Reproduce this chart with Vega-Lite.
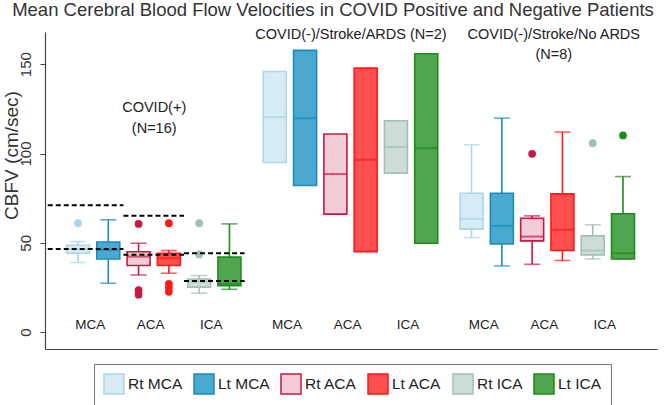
{
  "$schema": "https://vega.github.io/schema/vega-lite/v6.json",
  "width": 612,
  "height": 317,
  "autosize": "none",
  "padding": {"left": 45, "top": 32, "right": 9, "bottom": 56},
  "background": "white",
  "title": {"text": "Mean Cerebral Blood Flow Velocities in COVID Positive and Negative Patients", "anchor": "middle", "frame": "group", "dx": -18, "offset": 8, "fontSize": 18.5, "fontWeight": "normal", "color": "#333333", "font": "Liberation Sans"},
  "config": {
    "view": {"stroke": null},
    "font": "Liberation Sans",
    "axis": {"domainColor": "#444444", "tickColor": "#444444", "labelColor": "#333333", "titleColor": "#333333", "labelFont": "Liberation Sans", "titleFont": "Liberation Sans", "titleFontWeight": "normal"},
    "legend": {"direction": "horizontal", "columns": 6, "symbolType": "square", "symbolSize": 400, "symbolStrokeWidth": 1.5, "labelFontSize": 15.5, "labelColor": "#222222", "labelOffset": 3, "columnPadding": 8, "padding": 9, "strokeColor": "#777777", "fillColor": "white", "labelFont": "Liberation Sans"}
  },
  "datasets": {
    "boxes": [
      {"group": "COVID(+)", "slot": "Rt MCA", "series": "Rt MCA", "lower": 39, "q1": 44.2, "median": 46.5, "q3": 48.7, "upper": 50.7},
      {"group": "COVID(+)", "slot": "Lt MCA", "series": "Lt MCA", "lower": 27.4, "q1": 41, "median": 46, "q3": 50.5, "upper": 62.9},
      {"group": "COVID(+)", "slot": "Rt ACA", "series": "Rt ACA", "lower": 32, "q1": 37.3, "median": 42.3, "q3": 45, "upper": 49.8},
      {"group": "COVID(+)", "slot": "Lt ACA", "series": "Lt ACA", "lower": 33, "q1": 37.3, "median": 41.4, "q3": 44.2, "upper": 45.7},
      {"group": "COVID(+)", "slot": "Rt ICA", "series": "Rt ICA", "lower": 21.8, "q1": 25.2, "median": 28.3, "q3": 29.8, "upper": 31.7},
      {"group": "COVID(+)", "slot": "Lt ICA", "series": "Lt ICA", "lower": 24, "q1": 26, "median": 27, "q3": 42, "upper": 60.6},
      {"group": "COVID(-)/Stroke/ARDS", "slot": "Rt MCA", "series": "Rt MCA", "q1": 95, "median": 120.4, "q3": 145.9},
      {"group": "COVID(-)/Stroke/ARDS", "slot": "Lt MCA", "series": "Lt MCA", "q1": 82.1, "median": 119.8, "q3": 157.7},
      {"group": "COVID(-)/Stroke/ARDS", "slot": "Rt ACA", "series": "Rt ACA", "q1": 66.1, "median": 88.5, "q3": 110.9},
      {"group": "COVID(-)/Stroke/ARDS", "slot": "Lt ACA", "series": "Lt ACA", "q1": 45.1, "median": 96.5, "q3": 147.8},
      {"group": "COVID(-)/Stroke/ARDS", "slot": "Rt ICA", "series": "Rt ICA", "q1": 89, "median": 103.6, "q3": 118.3},
      {"group": "COVID(-)/Stroke/ARDS", "slot": "Lt ICA", "series": "Lt ICA", "q1": 49.8, "median": 103, "q3": 155.8},
      {"group": "COVID(-)/Stroke/No ARDS", "slot": "Rt MCA", "series": "Rt MCA", "lower": 53, "q1": 57.7, "median": 63.3, "q3": 77.8, "upper": 104.9},
      {"group": "COVID(-)/Stroke/No ARDS", "slot": "Lt MCA", "series": "Lt MCA", "lower": 37.1, "q1": 49.4, "median": 59.5, "q3": 77.8, "upper": 119.8},
      {"group": "COVID(-)/Stroke/No ARDS", "slot": "Rt ACA", "series": "Rt ACA", "lower": 38, "q1": 51.1, "median": 53.5, "q3": 63.8, "upper": 65.1},
      {"group": "COVID(-)/Stroke/No ARDS", "slot": "Lt ACA", "series": "Lt ACA", "lower": 40.1, "q1": 45.7, "median": 57.3, "q3": 77.4, "upper": 112},
      {"group": "COVID(-)/Stroke/No ARDS", "slot": "Rt ICA", "series": "Rt ICA", "lower": 41, "q1": 43.3, "median": 45.7, "q3": 53.9, "upper": 60.1},
      {"group": "COVID(-)/Stroke/No ARDS", "slot": "Lt ICA", "series": "Lt ICA", "lower": 41, "q1": 41, "median": 44.2, "q3": 66.3, "upper": 87.1}
    ],
    "outliers": [
      {"group": "COVID(+)", "slot": "Rt MCA", "value": 61},
      {"group": "COVID(+)", "slot": "Rt ACA", "value": 60.6},
      {"group": "COVID(+)", "slot": "Rt ACA", "value": 23.5},
      {"group": "COVID(+)", "slot": "Rt ACA", "value": 21},
      {"group": "COVID(+)", "slot": "Lt ACA", "value": 61},
      {"group": "COVID(+)", "slot": "Lt ACA", "value": 27},
      {"group": "COVID(+)", "slot": "Lt ACA", "value": 25},
      {"group": "COVID(+)", "slot": "Lt ACA", "value": 22.6},
      {"group": "COVID(+)", "slot": "Rt ICA", "value": 61},
      {"group": "COVID(+)", "slot": "Rt ICA", "value": 43.5},
      {"group": "COVID(-)/Stroke/No ARDS", "slot": "Rt ACA", "value": 99.8},
      {"group": "COVID(-)/Stroke/No ARDS", "slot": "Rt ICA", "value": 105.8},
      {"group": "COVID(-)/Stroke/No ARDS", "slot": "Lt ICA", "value": 110.1}
    ],
    "refs": [
      {"group": "COVID(+)", "line": "MCA upper", "slot": "LL", "value": 71},
      {"group": "COVID(+)", "line": "MCA upper", "slot": "b", "value": 71},
      {"group": "COVID(+)", "line": "MCA lower", "slot": "LL", "value": 46.6},
      {"group": "COVID(+)", "line": "MCA lower", "slot": "b", "value": 46.6},
      {"group": "COVID(+)", "line": "ACA upper", "slot": "b", "value": 65.1},
      {"group": "COVID(+)", "line": "ACA upper", "slot": "d", "value": 65.1},
      {"group": "COVID(+)", "line": "ACA lower", "slot": "b", "value": 43.3},
      {"group": "COVID(+)", "line": "ACA lower", "slot": "d", "value": 43.3},
      {"group": "COVID(+)", "line": "ICA upper", "slot": "d", "value": 44.2},
      {"group": "COVID(+)", "line": "ICA upper", "slot": "R", "value": 44.2},
      {"group": "COVID(+)", "line": "ICA lower", "slot": "d", "value": 28.7},
      {"group": "COVID(+)", "line": "ICA lower", "slot": "R", "value": 28.7}
    ],
    "labels": [
      {"group": "COVID(+)", "slot": "a", "label": "MCA"},
      {"group": "COVID(+)", "slot": "c", "label": "ACA"},
      {"group": "COVID(+)", "slot": "e", "label": "ICA"},
      {"group": "COVID(-)/Stroke/ARDS", "slot": "a", "label": "MCA"},
      {"group": "COVID(-)/Stroke/ARDS", "slot": "c", "label": "ACA"},
      {"group": "COVID(-)/Stroke/ARDS", "slot": "e", "label": "ICA"},
      {"group": "COVID(-)/Stroke/No ARDS", "slot": "a", "label": "MCA"},
      {"group": "COVID(-)/Stroke/No ARDS", "slot": "c", "label": "ACA"},
      {"group": "COVID(-)/Stroke/No ARDS", "slot": "e", "label": "ICA"}
    ],
    "notes": [
      {"group": "COVID(+)", "text": "COVID(+)", "value": 125.4},
      {"group": "COVID(+)", "text": "(N=16)", "value": 113.7},
      {"group": "COVID(-)/Stroke/ARDS", "text": "COVID(-)/Stroke/ARDS (N=2)", "value": 166.3}
    ],
    "notes3": [
      {"group": "COVID(-)/Stroke/No ARDS", "text": "COVID(-)/Stroke/No ARDS", "value": 166.3},
      {"group": "COVID(-)/Stroke/No ARDS", "text": "(N=8)", "value": 155.3}
    ]
  },
  "encoding": {
    "x": {"field": "group", "type": "nominal", "sort": null,
      "scale": {"type": "band", "domain": ["COVID(+)", "COVID(-)/Stroke/ARDS", "COVID(-)/Stroke/No ARDS"], "paddingInner": 0, "paddingOuter": 0.055},
      "axis": {"title": null, "labels": false, "ticks": false, "domain": true, "domainWidth": 1.2}}
  },
  "layer": [
    {
      "data": {"name": "boxes"},
      "transform": [{"filter": "isValid(datum.lower) && isValid(datum.upper)"}],
      "mark": {"type": "bar", "width": 1.6},
      "encoding": {
        "xOffset": {"field": "slot", "type": "nominal", "scale": {"type": "point", "domain": ["LL", "L", "Rt MCA", "a", "Lt MCA", "b", "Rt ACA", "c", "Lt ACA", "d", "Rt ICA", "e", "Lt ICA", "R", "RR"], "range": [-8.1, 203.9], "padding": 0}},
        "y": {"field": "lower", "type": "quantitative",
          "scale": {"domain": [-9.4, 168], "nice": false, "zero": false},
          "axis": {"title": "CBFV (cm/sec)", "values": [0, 50, 100, 150], "grid": false, "labelAngle": 270, "labelAlign": "center", "labelBaseline": "bottom", "labelFontSize": 15, "labelPadding": 7, "tickSize": 5, "titleFontSize": 19, "titleAngle": 270, "titleAlign": "center", "titleBaseline": "middle", "titleX": -34, "titleY": 123, "domainWidth": 1.2}},
        "y2": {"field": "upper"},
        "fill": {"field": "slot", "type": "nominal", "legend": null,
          "scale": {"domain": ["Lt MCA", "Rt MCA", "Lt ACA", "Rt ACA", "Lt ICA", "Rt ICA"], "range": ["#1a8bc2", "#a9d6ea", "#ff1a1a", "#c41a44", "#1d8c1d", "#a2bfb6"]}}
      }
    },
    {
      "data": {"name": "boxes"},
      "transform": [{"filter": "isValid(datum.lower)"}],
      "mark": {"type": "tick", "size": 16, "thickness": 1.6},
      "encoding": {
        "xOffset": {"field": "slot", "type": "nominal"},
        "y": {"field": "lower", "type": "quantitative"},
        "fill": {"field": "slot", "type": "nominal", "legend": null}
      }
    },
    {
      "data": {"name": "boxes"},
      "transform": [{"filter": "isValid(datum.upper)"}],
      "mark": {"type": "tick", "size": 16, "thickness": 1.6},
      "encoding": {
        "xOffset": {"field": "slot", "type": "nominal"},
        "y": {"field": "upper", "type": "quantitative"},
        "fill": {"field": "slot", "type": "nominal", "legend": null}
      }
    },
    {
      "data": {"name": "boxes"},
      "mark": {"type": "bar", "width": 23, "strokeWidth": 1.6},
      "encoding": {
        "xOffset": {"field": "slot", "type": "nominal"},
        "y": {"field": "q1", "type": "quantitative"},
        "y2": {"field": "q3"},
        "color": {"field": "series", "type": "nominal",
          "legend": {"title": null, "orient": "none", "legendX": 49, "legendY": 332},
          "scale": {"domain": ["Rt MCA", "Lt MCA", "Rt ACA", "Lt ACA", "Rt ICA", "Lt ICA"], "range": ["#d6ebf3", "#4aa9cf", "#f2cdd7", "#ff4f4f", "#cddcd8", "#4fa64f"]}},
        "stroke": {"field": "series", "type": "nominal",
          "legend": {"title": null, "orient": "none", "legendX": 49, "legendY": 332},
          "scale": {"domain": ["Rt MCA", "Lt MCA", "Rt ACA", "Lt ACA", "Rt ICA", "Lt ICA"], "range": ["#a9d6ea", "#1a8bc2", "#c41a44", "#ff1a1a", "#a2bfb6", "#1d8c1d"]}}
      }
    },
    {
      "data": {"name": "boxes"},
      "mark": {"type": "tick", "size": 23, "thickness": 2},
      "encoding": {
        "xOffset": {"field": "slot", "type": "nominal"},
        "y": {"field": "median", "type": "quantitative"},
        "fill": {"field": "slot", "type": "nominal", "legend": null}
      }
    },
    {
      "data": {"name": "outliers"},
      "mark": {"type": "point", "filled": true, "size": 60, "opacity": 1},
      "encoding": {
        "xOffset": {"field": "slot", "type": "nominal"},
        "y": {"field": "value", "type": "quantitative"},
        "fill": {"field": "slot", "type": "nominal", "legend": null}
      }
    },
    {
      "data": {"name": "refs"},
      "mark": {"type": "line", "color": "black", "strokeWidth": 2, "strokeDash": [5, 3]},
      "encoding": {
        "xOffset": {"field": "slot", "type": "nominal"},
        "y": {"field": "value", "type": "quantitative"},
        "detail": {"field": "line", "type": "nominal"}
      }
    },
    {
      "data": {"name": "labels"},
      "mark": {"type": "text", "fontSize": 13.5, "color": "#222222", "dx": -3, "baseline": "middle"},
      "encoding": {
        "xOffset": {"field": "slot", "type": "nominal"},
        "y": {"datum": 4, "type": "quantitative"},
        "text": {"field": "label"}
      }
    },
    {
      "data": {"name": "notes"},
      "mark": {"type": "text", "fontSize": 14.5, "color": "#222222", "baseline": "middle"},
      "encoding": {
        "y": {"field": "value", "type": "quantitative"},
        "text": {"field": "text"}
      }
    },
    {
      "data": {"name": "notes3"},
      "mark": {"type": "text", "fontSize": 14.5, "color": "#222222", "baseline": "middle", "dx": 6},
      "encoding": {
        "y": {"field": "value", "type": "quantitative"},
        "text": {"field": "text"}
      }
    }
  ]
}
